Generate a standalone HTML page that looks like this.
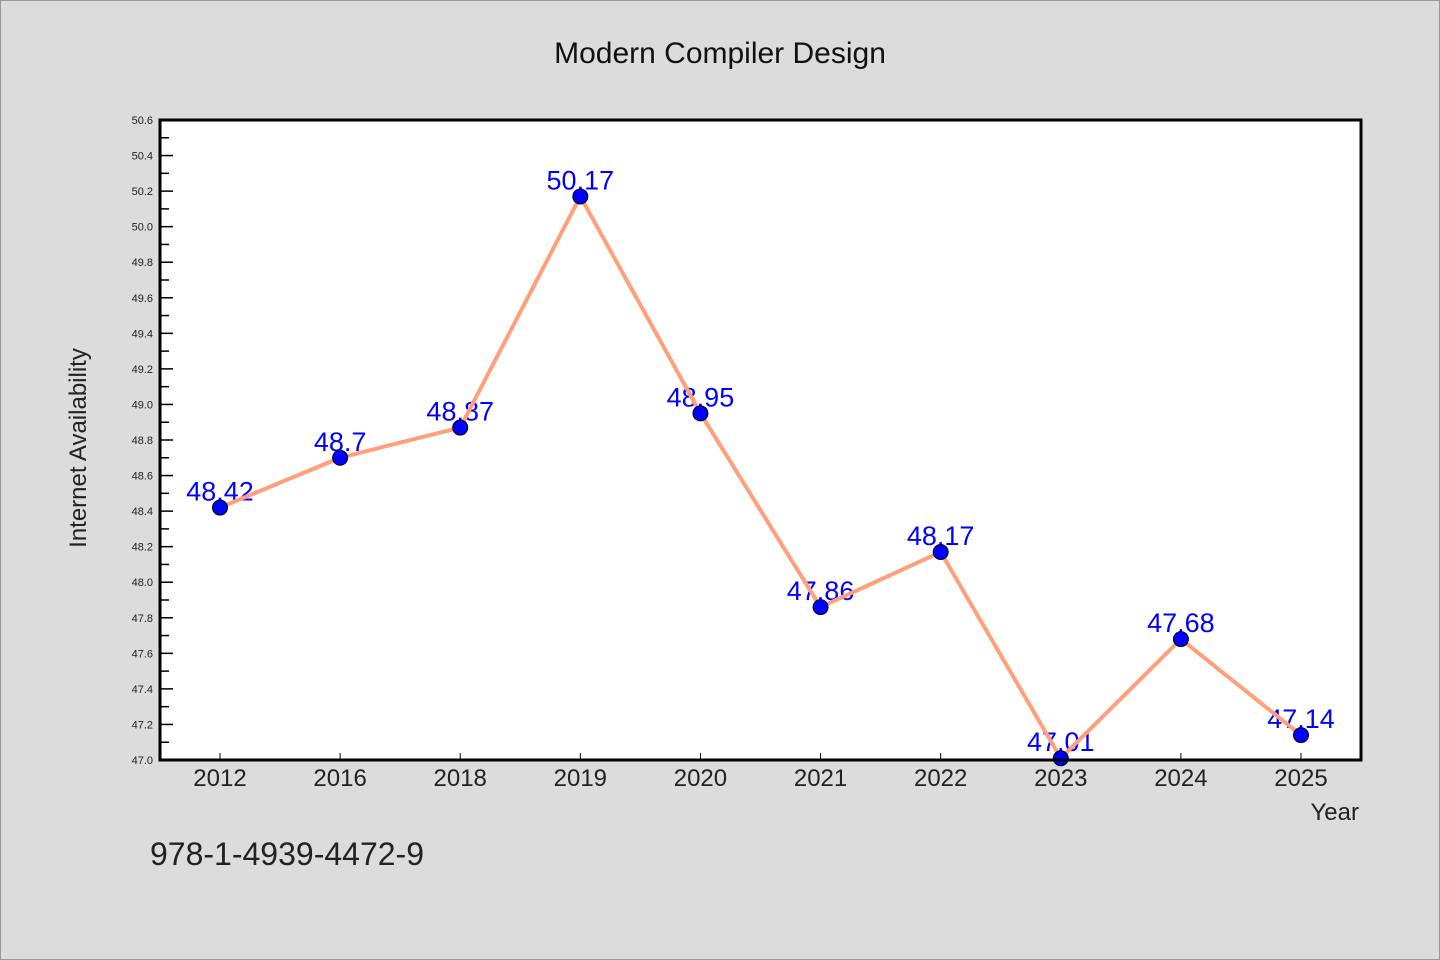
<!DOCTYPE html>
<html><head><meta charset="utf-8"><style>
html,body{margin:0;padding:0;background:#dcdcdc;}
svg{display:block;font-family:"WenQuanYi Zen Hei","Liberation Sans",sans-serif;}
</style></head><body>
<svg id="chart" width="1440" height="960">
<rect x="0.5" y="0.5" width="1439" height="959" fill="#dcdcdc" stroke="#999"/>
<text x="720" y="63" text-anchor="middle" font-size="30" fill="#111">Modern Compiler Design</text>
<rect x="160" y="120" width="1201" height="640" fill="#fff"/>
<g id="ticks"></g>
<g id="series"></g>
<rect x="160" y="120" width="1201" height="640" fill="none" stroke="#000" stroke-width="3"/>
<text x="86" y="448" text-anchor="middle" font-size="24" fill="#222" transform="rotate(-90 86 448)">Internet Availability</text>
<text x="1359" y="820" text-anchor="end" font-size="24" fill="#222">Year</text>
<text x="150" y="865" font-size="32" fill="#222">978-1-4939-4472-9</text>
</svg>
<script>
const categories=["2012","2016","2018","2019","2020","2021","2022","2023","2024","2025"];
const values=[48.42,48.7,48.87,50.17,48.95,47.86,48.17,47.01,47.68,47.14];
const valueLabels=["48.42","48.7","48.87","50.17","48.95","47.86","48.17","47.01","47.68","47.14"];
const yTicks=[47.0,47.2,47.4,47.6,47.8,48.0,48.2,48.4,48.6,48.8,49.0,49.2,49.4,49.6,49.8,50.0,50.2,50.4,50.6];
const yMin=47.0,yMax=50.6;
const L=160,R=1361,T=120,B=760;
const NS="http://www.w3.org/2000/svg";
function xs(i){return L+60+i*(R-L-120)/(categories.length-1);}
function ys(v){return B-(v-yMin)/(yMax-yMin)*(B-T);}
function mk(tag,attrs,parent){const e=document.createElementNS(NS,tag);for(const k in attrs)e.setAttribute(k,attrs[k]);parent.appendChild(e);return e;}
const tg=document.getElementById('ticks'),sg=document.getElementById('series');
yTicks.forEach((v,i)=>{
  const y=ys(v);
  const t=mk('line',{x1:L,x2:L+13,y1:y,y2:y,stroke:'#000','stroke-width':1.5},tg);
  
  
  const lb=mk('text',{x:L-7,y:y+4,'text-anchor':'end','font-size':11,fill:'#222'},tg);
  lb.textContent=v.toFixed(1);
  
  
  if(i<yTicks.length-1){
    const ym=ys(v+0.1);
    const m=mk('line',{x1:L,x2:L+9,y1:ym,y2:ym,stroke:'#000','stroke-width':1.5},tg);
    
    
  }
});
categories.forEach((c,i)=>{
  const x=xs(i);
  const t=mk('line',{x1:x,x2:x,y1:B,y2:B-7,stroke:'#000','stroke-width':1},tg);
  
  
  const lb=mk('text',{x:x,y:B+26,'text-anchor':'middle','font-size':24,fill:'#222'},tg);
  lb.textContent=c;
  
  
});
values.forEach((v,i)=>{
  const lb=mk('text',{x:xs(i),y:ys(v)-7,'text-anchor':'middle','font-size':27,fill:'#0000ff'},sg);
  lb.textContent=valueLabels[i];
  
  
});
const line=mk('polyline',{points:values.map((v,i)=>xs(i)+','+ys(v)).join(' '),fill:'none',stroke:'#ffa07a','stroke-width':4,'stroke-linejoin':'round'},sg);


values.forEach((v,i)=>{
  const c=mk('circle',{cx:xs(i),cy:ys(v),r:7.5,fill:'#0000ff',stroke:'#000','stroke-width':1},sg);
  
  
});
</script>
</body></html>
